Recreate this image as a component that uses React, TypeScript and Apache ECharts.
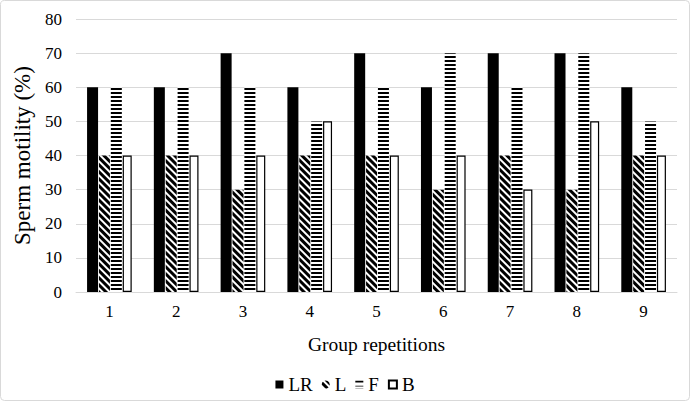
import React, { useEffect, useRef } from "react";
import * as echarts from "echarts";

const categories = ["1", "2", "3", "4", "5", "6", "7", "8", "9"];
const seriesNames = ["LR", "L", "F", "B"];
const lrValues = [60, 60, 70, 60, 70, 60, 70, 70, 60];
const lValues = [40, 40, 30, 40, 40, 30, 40, 30, 40];
const fValues = [60, 60, 60, 50, 60, 70, 60, 70, 50];
const bValues = [40, 40, 40, 50, 40, 40, 30, 50, 40];

export default function App() {
  const ref = useRef<HTMLDivElement>(null);
  useEffect(() => {
    if (!ref.current) return;
    const chart = echarts.init(ref.current, null, { renderer: "svg" });
    const font = "Liberation Serif";
    const bw = 11;
    const icons = ["rect", "circle", "path://M0,0H10V3.5H0ZM0,6.5H10V10H0Z", "rect"];
    chart.setOption({
      animation: false,
      textStyle: { fontFamily: font, color: "#000" },
      grid: { left: 76, right: 13, top: 19, bottom: 109 },
      legend: {
        top: 370,
        left: "center",
        itemWidth: 8,
        itemHeight: 8,
        itemGap: 9,
        textStyle: { fontFamily: font, fontSize: 19, color: "#000" },
        data: seriesNames.map((n, i) => ({ name: n, icon: icons[i] })),
      },
      xAxis: {
        type: "category",
        data: categories,
        name: "Group repetitions",
        nameLocation: "middle",
        nameGap: 42,
        nameTextStyle: { fontFamily: font, fontSize: 19.5, color: "#000" },
        axisLine: { lineStyle: { color: "#d9d9d9" } },
        axisTick: { show: false },
        axisLabel: { fontFamily: font, fontSize: 17, color: "#000", margin: 11 },
      },
      yAxis: {
        type: "value",
        min: 0,
        max: 80,
        interval: 10,
        name: "Sperm motility (%)",
        nameLocation: "middle",
        nameGap: 41,
        nameTextStyle: { fontFamily: font, fontSize: 23, color: "#000" },
        axisLine: { show: false },
        axisTick: { show: false },
        splitLine: { lineStyle: { color: "#d9d9d9", width: 1 } },
        axisLabel: { fontFamily: font, fontSize: 17, color: "#000", margin: 14 },
      },
      series: [
        {
          name: "LR",
          type: "bar",
          data: lrValues,
          barWidth: bw,
          barGap: "8%",
          itemStyle: { color: "#000" },
        },
        {
          name: "L",
          type: "bar",
          data: lValues,
          barWidth: bw,
          barGap: "8%",
          itemStyle: {
            color: "#fff",
            decal: {
              symbol: "rect",
              symbolSize: 1,
              color: "#000",
              backgroundColor: "#fff",
              dashArrayX: [1, 0],
              dashArrayY: [2.2, 1.6],
              rotation: Math.PI / 4,
            },
          },
        },
        {
          name: "F",
          type: "bar",
          data: fValues,
          barWidth: bw,
          barGap: "8%",
          itemStyle: {
            color: "#fff",
            decal: {
              symbol: "rect",
              symbolSize: 1,
              color: "#000",
              backgroundColor: "#fff",
              dashArrayX: [1, 0],
              dashArrayY: [2, 1.4],
              rotation: 0,
            },
          },
        },
        {
          name: "B",
          type: "bar",
          data: bValues,
          barWidth: bw - 2,
          barGap: "8%",
          itemStyle: { color: "#fff", borderColor: "#000", borderWidth: 1.2 },
        },
      ],
      graphic: [
        {
          type: "rect",
          shape: { x: 0.5, y: 0.5, width: 689, height: 400, r: 4 },
          style: { fill: "none", stroke: "#d9d9d9", lineWidth: 1 },
          silent: true,
        },
      ],
    });
    return () => chart.dispose();
  }, []);
  return (
    <div
      ref={ref}
      style={{ position: "fixed", left: 0, top: 0, width: 690, height: 401, background: "#fff" }}
    />
  );
}
